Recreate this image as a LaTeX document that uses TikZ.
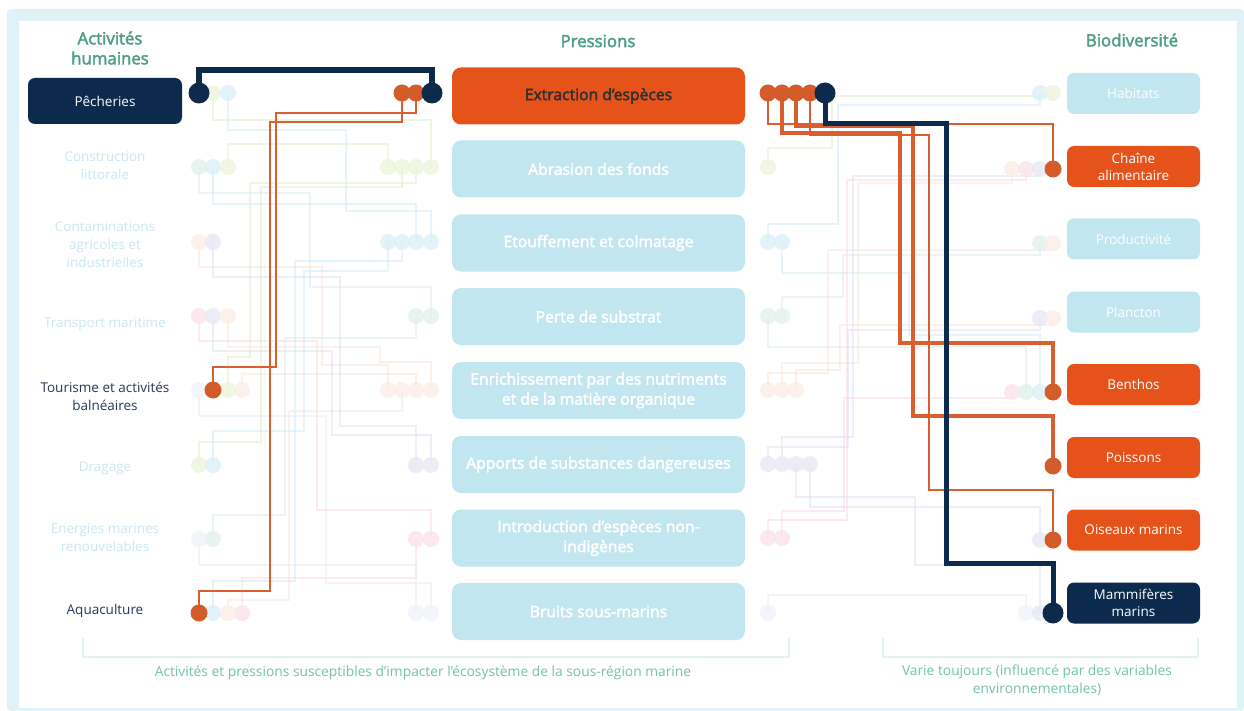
\documentclass[tikz,border=0pt]{standalone}
\usepackage{fontspec}
\setmainfont{Open Sans}
\newfontfamily\semib[FakeBold=2.5]{Open Sans}
\pgfdeclarelayer{back}
\pgfdeclarelayer{wires}
\pgfsetlayers{back,wires,main}
\definecolor{navy}{HTML}{0C2A4B}
\definecolor{obox}{HTML}{E5531A}
\definecolor{odotc}{HTML}{D45B2A}
\definecolor{olinec}{HTML}{D9602E}
\definecolor{lblue}{HTML}{C2E6F0}
\definecolor{framec}{HTML}{DFF2F8}
\definecolor{greenh}{HTML}{4E9D85}
\definecolor{greenb}{HTML}{72C3A7}
\definecolor{darkt}{HTML}{233A5C}
\definecolor{faintt}{HTML}{C9E7F2}
\definecolor{brk}{HTML}{E3F0F4}
% faint pressure tints (line / dot)
\definecolor{lyg}{HTML}{E3EDC9}\definecolor{dyg}{HTML}{EDF4DB}
\definecolor{lbl}{HTML}{CFEAF6}\definecolor{dbl}{HTML}{DAEFF8}
\definecolor{lgr}{HTML}{D6EBE3}\definecolor{dgr}{HTML}{E1F0EA}
\definecolor{lpe}{HTML}{FAE2D6}\definecolor{dpe}{HTML}{FCEDE6}
\definecolor{lla}{HTML}{DCDFEF}\definecolor{dla}{HTML}{E6E8F4}
\definecolor{lpi}{HTML}{F8D9E3}\definecolor{dpi}{HTML}{FBE2EA}
\definecolor{lvf}{HTML}{E6EAF3}\definecolor{dvf}{HTML}{F0F3F9}
\newcommand\myfs[2]{\fontsize{#1}{#2}\selectfont}
\newcommand\wire[6]{\draw[#1] (#2.center) |- (#5,#4) -- (#5,#6) -| (#3.center);}
\begin{document}
\begin{tikzpicture}[x=1pt,y=-1pt,line join=miter,
  fdot/.style={circle,inner sep=0pt,minimum size=16,fill=#1,fill opacity=0.8},
  odot/.style={circle,inner sep=0pt,minimum size=17,fill=odotc},
  ndot/.style={circle,inner sep=0pt,minimum size=21,fill=navy},
  fw/.style={draw=#1,line width=1.4,draw opacity=0.5},
  othin/.style={draw=olinec,line width=2},
  othick/.style={draw=olinec,line width=3.5},
  nline/.style={draw=navy,line width=5.5},
  pbox/.style={rounded corners=9,minimum width=293,minimum height=57,fill=lblue,text=white,font=\semib\myfs{15.7}{20},align=center,inner sep=0pt},
  bbox/.style={rounded corners=7,minimum width=133,minimum height=41,fill=lblue,text=white,font=\myfs{13.5}{17},align=center,inner sep=0pt},
  acttxt/.style={text=faintt,font=\myfs{13.5}{18},align=center},
  head/.style={text=greenh,font=\semib\myfs{16.8}{20},align=center}]
\useasboundingbox (0,0) rectangle (1244,711);
\begin{pgfonlayer}{back}
\fill[framec,rounded corners=4] (7,9) rectangle (1244,711);
\fill[white] (19,21) rectangle (1237,708);
\draw[brk,line width=1.5] (83,638) |- (789,657) -- (789,638);
\draw[brk,line width=1.5] (883,638) |- (1198,657) -- (1198,638);
\end{pgfonlayer}

% headers
\node[head] (hA) at (110,48) {Activités\\humaines};
\node[head] (hP) at (598,41) {Pressions};
\node[head] (hB) at (1132,40) {Biodiversité};

% activities
\node[rounded corners=7,minimum width=154,minimum height=46,fill=navy,text=white,font=\myfs{13.5}{18},inner sep=0pt] (act0) at (105,101) {Pêcheries};
\node[acttxt] (act1) at (105,166) {Construction\\littorale};
\node[acttxt] (act2) at (105,245) {Contaminations\\agricoles et\\industrielles};
\node[acttxt] (act3) at (105,324) {Transport maritime};
\node[acttxt,text=darkt] (act4) at (105,396) {Tourisme et activités\\balnéaires};
\node[acttxt] (act5) at (105,468) {Dragage};
\node[acttxt] (act6) at (105,538) {Energies marines\\renouvelables};
\node[acttxt,text=darkt] (act7) at (105,611) {Aquaculture};

% pressures
\node[pbox,fill=obox,text=black!82] (pr0) at (598.5,96) {Extraction d’espèces};
\node[pbox] (pr1) at (598.5,169) {Abrasion des fonds};
\node[pbox] (pr2) at (598.5,243) {Etouffement et colmatage};
\node[pbox] (pr3) at (598.5,316.5) {Perte de substrat};
\node[pbox] (pr4) at (598.5,390.5) {Enrichissement par des nutriments\\et de la matière organique};
\node[pbox] (pr5) at (598.5,464.5) {Apports de substances dangereuses};
\node[pbox] (pr6) at (598.5,538) {Introduction d’espèces non-\\indigènes};
\node[pbox] (pr7) at (598.5,611.5) {Bruits sous-marins};

% biodiversity
\node[bbox] (bio0) at (1133.5,93.5) {Habitats};
\node[bbox,fill=obox] (bio1) at (1133.5,166.5) {Chaîne\\alimentaire};
\node[bbox] (bio2) at (1133.5,239) {Productivité};
\node[bbox] (bio3) at (1133.5,312) {Plancton};
\node[bbox,fill=obox] (bio4) at (1133.5,384.5) {Benthos};
\node[bbox,fill=obox] (bio5) at (1133.5,457.5) {Poissons};
\node[bbox,fill=obox] (bio6) at (1133.5,530) {Oiseaux marins};
\node[bbox,fill=navy] (bio7) at (1133.5,603) {Mammifères\\marins};

% footers
\node[text=greenb,font=\myfs{13.8}{18}] (f1) at (423,673) {Activités et pressions susceptibles d’impacter l’écosystème de la sous-région marine};
\node[text=greenb,font=\myfs{13.8}{18},align=center] (f2) at (1037,680) {Varie toujours (influencé par des variables\\environnementales)};

% ---------- dots ----------
% activity side
\node[fdot=dyg] (act0b) at (213,93) {};
\node[fdot=dbl] (act0c) at (228,93) {};
\node[ndot] (act0a) at (199,93) {};
\node[fdot=dgr] (act1a) at (199,167) {};
\node[fdot=dbl] (act1b) at (213,167) {};
\node[fdot=dyg] (act1c) at (228,167) {};
\node[fdot=dpe] (act2a) at (199,242) {};
\node[fdot=dla] (act2b) at (213,242) {};
\node[fdot=dpi] (act3a) at (199,316) {};
\node[fdot=dla] (act3b) at (213,316) {};
\node[fdot=dpe] (act3c) at (228,316) {};
\node[fdot=dvf] (act4a) at (199,390) {};
\node[fdot=dyg] (act4c) at (228,390) {};
\node[fdot=dpe] (act4d) at (242,390) {};
\node[odot] (act4b) at (213,390) {};
\node[fdot=dyg] (act5a) at (199,465) {};
\node[fdot=dbl] (act5b) at (213,465) {};
\node[fdot=dvf] (act6a) at (199,539) {};
\node[fdot=dgr] (act6b) at (213,539) {};
\node[fdot=dbl] (act7b) at (213,613) {};
\node[fdot=dpe] (act7c) at (228,613) {};
\node[fdot=dpi] (act7d) at (242,613) {};
\node[odot] (act7a) at (199,613) {};
% pressure left side
\node[odot] (pl0b) at (402,93) {};
\node[odot] (pl0c) at (416,93) {};
\node[ndot] (pl0d) at (432,93) {};
\foreach \c/\x in {a/388,b/402,c/416,d/431} {
  \node[fdot=dyg] (pl1\c) at (\x,167) {};
  \node[fdot=dbl] (pl2\c) at (\x,242) {};
  \node[fdot=dpe] (pl4\c) at (\x,390) {};
}
\foreach \c/\x in {c/416,d/431} {
  \node[fdot=dgr] (pl3\c) at (\x,316) {};
  \node[fdot=dla] (pl5\c) at (\x,465) {};
  \node[fdot=dpi] (pl6\c) at (\x,539) {};
  \node[fdot=dvf] (pl7\c) at (\x,613) {};
}
% pressure right side
\foreach \c/\x in {a/768,b/782,c/796,d/810} {\node[odot] (pr0\c) at (\x,93) {};}
\node[ndot] (pr0e) at (825,93) {};
\node[fdot=dyg] (pr1a) at (768,167) {};
\node[fdot=dbl] (pr2a) at (768,242) {};
\node[fdot=dbl] (pr2b) at (782,242) {};
\node[fdot=dgr] (pr3a) at (768,316) {};
\node[fdot=dgr] (pr3b) at (782,316) {};
\node[fdot=dpe] (pr4a) at (768,390) {};
\node[fdot=dpe] (pr4b) at (782,390) {};
\node[fdot=dpe] (pr4c) at (796,390) {};
\foreach \c/\x in {a/768,b/782,c/796,d/810} {\node[fdot=dla] (pr5\c) at (\x,464) {};}
\node[fdot=dpi] (pr6a) at (768,538) {};
\node[fdot=dpi] (pr6b) at (782,538) {};
\node[fdot=dvf] (pr7a) at (768,613) {};
% biodiversity side
\node[fdot=dbl] (bd0c) at (1040,93) {};
\node[fdot=dyg] (bd0d) at (1053,93) {};
\node[fdot=dpe] (bd1a) at (1012,169) {};
\node[fdot=dpi] (bd1b) at (1026,169) {};
\node[fdot=dla] (bd1c) at (1040,169) {};
\node[odot] (bd1d) at (1053,169) {};
\node[fdot=dgr] (bd2c) at (1040,243) {};
\node[fdot=dpe] (bd2d) at (1053,243) {};
\node[fdot=dla] (bd3c) at (1040,318) {};
\node[fdot=dpe] (bd3d) at (1053,318) {};
\node[fdot=dpi] (bd4a) at (1012,392) {};
\node[fdot=dgr] (bd4b) at (1026,392) {};
\node[fdot=dbl] (bd4c) at (1040,392) {};
\node[odot] (bd4d) at (1053,392) {};
\node[odot] (bd5d) at (1053,466) {};
\node[fdot=dla] (bd6c) at (1040,540) {};
\node[odot] (bd6d) at (1053,540) {};
\node[fdot=dvf] (bd7b) at (1026,613) {};
\node[fdot=dla] (bd7c) at (1040,613) {};
\node[ndot] (bd7d) at (1053,613) {};

% ---------- connectors ----------
\begin{pgfonlayer}{wires}
% faint, left
\wire{fw=lyg}{act0b}{pl1d}{120}{431}{120}
\wire{fw=lbl}{act0c}{pl2d}{130}{346}{211}
\wire{fw=lyg}{act1c}{pl1a}{144}{388}{144}
\wire{fw=lgr}{act1a}{pl3d}{193}{310}{287}
\wire{fw=lbl}{act1b}{pl2c}{204}{416}{204}
\wire{fw=lyg}{act5a}{pl1b}{442}{261}{187}
\wire{fw=lyg}{act4c}{pl1c}{357}{250}{183}
\wire{fw=lpe}{act2a}{pl4a}{267}{322}{365}
\wire{fw=lla}{act2b}{pl5c}{277}{340}{426}
\wire{fw=lla}{act3b}{pl5d}{351}{332}{435}
\wire{fw=lpi}{act3a}{pl6d}{341}{317}{510}
\wire{fw=lpi}{act7d}{pl6c}{578}{416}{578}
\wire{fw=lpe}{act7c}{pl4b}{600}{289}{411}
\wire{fw=lpe}{act3c}{pl4d}{347}{380}{362}
\wire{fw=lpe}{act4d}{pl4c}{374}{416}{374}
\wire{fw=lbl}{act5b}{pl2a}{431}{304}{271}
\wire{fw=lbl}{act7b}{pl2b}{581}{295}{261}
\wire{fw=lvf}{act6a}{pl7c}{565}{416}{565}
\wire{fw=lvf}{act4a}{pl7d}{416}{326}{583}
\wire{fw=lgr}{act6b}{pl3c}{515}{285}{338}
% faint, right
\wire{fw=lyg}{pr1a}{bd0d}{148}{832}{96}
\wire{fw=lbl}{pr2a}{bd0c}{224}{838}{105}
\wire{fw=lbl}{pr2b}{bd4c}{273}{909}{335}
\wire{fw=lgr}{pr3a}{bd4b}{347}{1026}{347}
\wire{fw=lgr}{pr3b}{bd2c}{297}{843}{255}
\wire{fw=lpe}{pr4a}{bd2d}{373}{828}{250}
\wire{fw=lpe}{pr4b}{bd1a}{363}{858}{183}
\wire{fw=lpe}{pr4c}{bd3d}{370}{840}{325}
\wire{fw=lla}{pr5a}{bd3c}{447}{848}{330}
\wire{fw=lla}{pr5b}{bd1c}{437}{853}{176}
\wire{fw=lla}{pr5c}{bd7c}{497}{915}{565}
\wire{fw=lla}{pr5d}{bd6c}{507}{1040}{507}
\wire{fw=lpi}{pr6a}{bd1b}{520}{847}{180}
\wire{fw=lpi}{pr6b}{bd4a}{511}{844}{398}
\wire{fw=lvf}{pr7a}{bd7b}{595}{1026}{595}
% highlighted, left
\wire{othin}{pl0b}{act7a}{122}{270}{591}
\wire{othin}{pl0c}{act4b}{113}{276}{367}
\wire{nline}{act0a}{pl0d}{70}{432}{70}
% highlighted, right
\wire{othin,line width=2.5}{pr0a}{bd1d}{124}{1053}{124}
\wire{othick}{pr0b}{bd4d}{133}{900}{343}
\wire{othick}{pr0c}{bd5d}{126}{913}{416}
\wire{othin}{pr0d}{bd6d}{135}{929}{490}
\wire{nline,line width=5}{pr0e}{bd7d}{124}{946}{563}
\end{pgfonlayer}
\end{tikzpicture}
\end{document}
